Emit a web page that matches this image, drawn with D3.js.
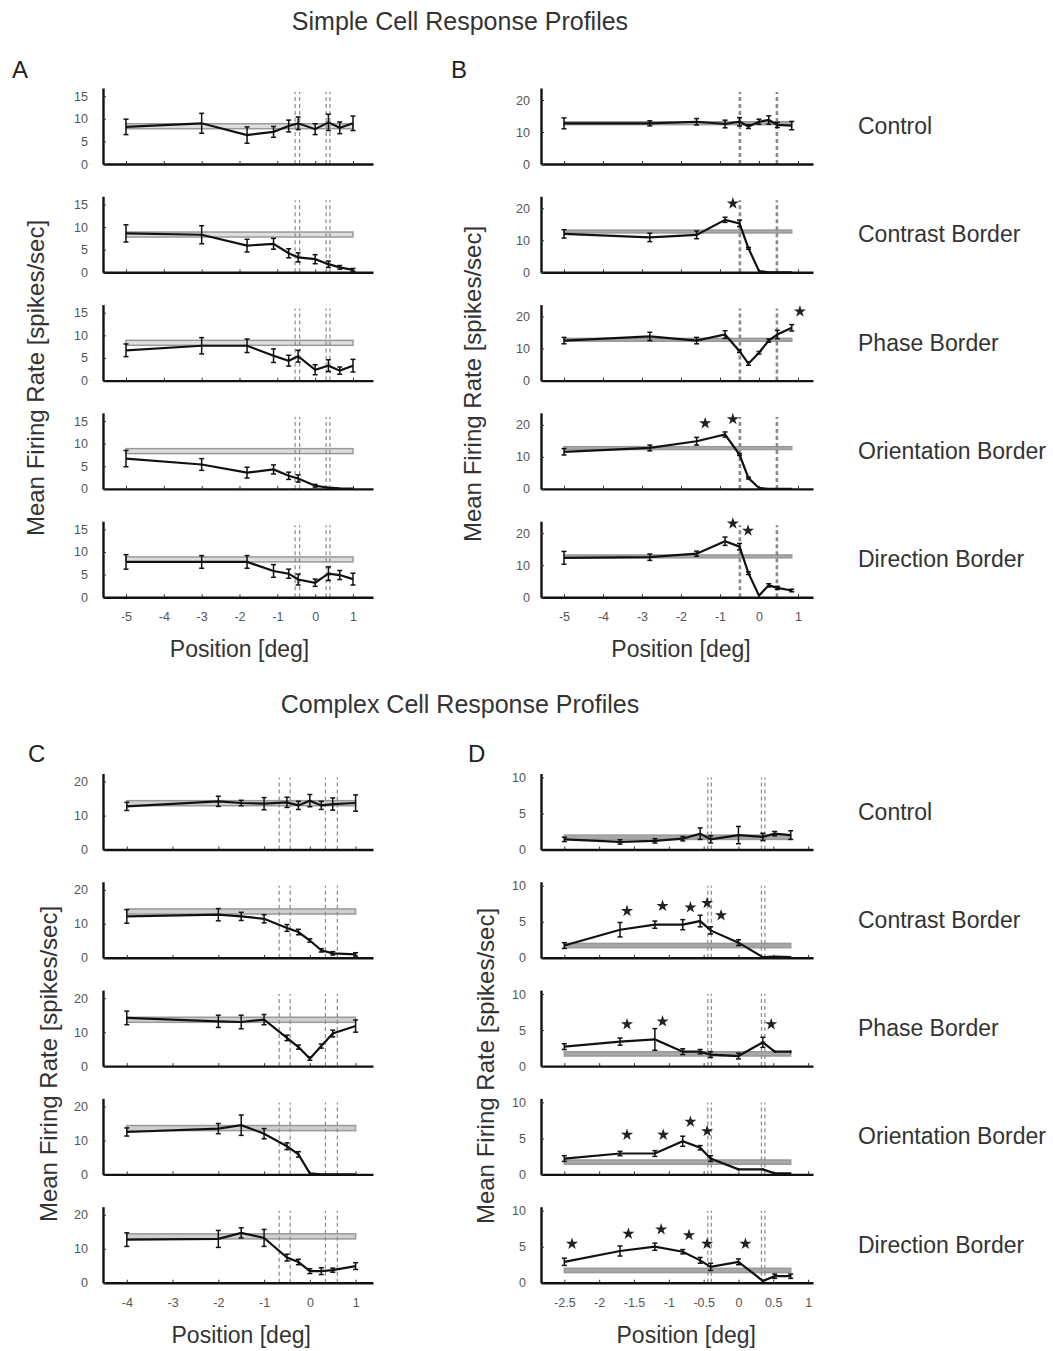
<!DOCTYPE html>
<html>
<head>
<meta charset="utf-8">
<script src="https://cdn.jsdelivr.net/npm/d3@7"></script>
<style>
  body { margin: 0; background: #fff; }
  text { font-family: "Liberation Sans", Arial, sans-serif; }
</style>
</head>
<body>
<svg id="chart"></svg>
<script>
// size
const width = 1053;
const height = 1351;

// conditions (rows)
const conditions = ["Control", "Contrast Border", "Phase Border", "Orientation Border", "Direction Border"];

// ---- A: simple cell, example 1 ----
const aX = [-5, -3, -1.8, -1.1, -0.7, -0.45, 0, 0.35, 0.65, 1.0];
const aMean = [
    [8.2, 9.0, 6.4, 7.1, 8.4, 9.0, 7.7, 9.2, 8.0, 9.0],
    [8.6, 8.3, 5.9, 6.3, 4.2, 3.3, 2.9, 1.8, 1.1, 0.55],
    [6.7, 7.7, 7.7, 5.5, 4.4, 5.4, 2.4, 3.3, 2.2, 3.3],
    [6.7, 5.4, 3.6, 4.3, 2.9, 2.3, 0.7, 0.3, 0.1, 0.05],
    [7.8, 7.8, 7.8, 5.8, 5.2, 3.9, 3.2, 5.2, 4.9, 4.0]
];
const aErr = [
    [1.7, 2.2, 1.8, 1.2, 1.3, 1.4, 1.2, 1.8, 1.3, 1.6],
    [1.9, 2.0, 1.4, 1.2, 1.0, 1.0, 1.0, 0.7, 0.4, 0.3],
    [1.4, 1.8, 1.5, 1.5, 1.2, 1.3, 1.1, 1.3, 0.8, 1.4],
    [1.8, 1.3, 1.2, 1.0, 0.8, 0.8, 0.3, 0.2, 0.1, 0.1],
    [1.6, 1.4, 1.4, 1.4, 1.0, 1.2, 0.8, 1.5, 1.0, 1.3]
];
const aBand = [7.8, 8.9];
const aBorders = [-0.53, -0.41, 0.29, 0.39];
const aStars = [[], [], [], [], []];
const aXTicks = [-5, -4, -3, -2, -1, 0, 1];
const aYTicks = [0, 5, 10, 15];

// ---- B: simple cell, example 2 ----
const bX = [-5, -2.8, -1.6, -0.87, -0.5, -0.27, 0, 0.25, 0.47, 0.84];
const bMean = [
    [12.7, 12.7, 13.2, 12.5, 13.2, 11.7, 13.2, 13.75, 12.2, 12.0],
    [12.0, 10.9, 11.7, 16.4, 15.3, 7.5, 0.4, 0, 0, 0],
    [12.5, 13.8, 12.5, 14.4, 9.2, 5.3, 8.7, 12.5, 14.4, 16.5],
    [11.6, 12.8, 14.9, 17.0, 10.75, 3.4, 0.3, 0, 0, 0],
    [12.3, 12.5, 13.6, 17.5, 15.8, 7.5, 0.5, 3.7, 2.9, 2.1]
];
const bErr = [
    [1.7, 0.8, 1.0, 1.2, 1.3, 0.6, 0.8, 1.3, 0.8, 1.3],
    [1.3, 1.3, 1.2, 0.8, 1.0, 0.3, 0.2, 0, 0, 0],
    [1.0, 1.3, 1.0, 1.2, 0.4, 0.5, 0.4, 0.5, 1.3, 1.0],
    [1.0, 0.9, 1.2, 0.8, 0.3, 0.3, 0.1, 0, 0, 0],
    [2.0, 1.0, 0.8, 1.3, 1.0, 0.4, 0.2, 0.5, 0.5, 0.4]
];
const bBand = [12.3, 13.2];
const bBorders = [-0.49, 0.46];
const bStars = [
    [],
    [[-0.67, 21.5]],
    [[1.05, 21.6]],
    [[-1.38, 20.5], [-0.67, 21.8]],
    [[-0.67, 23.0], [-0.28, 20.8]]
];
const bXTicks = [-5, -4, -3, -2, -1, 0, 1];
const bYTicks = [0, 10, 20];

// ---- C: complex cell, example 1 ----
const cX = [-4, -2, -1.5, -1, -0.5, -0.25, 0, 0.25, 0.5, 1.0];
const cMean = [
    [12.7, 14.2, 13.7, 13.5, 13.9, 13.0, 14.4, 13.0, 13.4, 13.7],
    [12.2, 12.7, 12.2, 11.5, 8.8, 7.6, 5.1, 2.2, 1.3, 1.0],
    [14.2, 13.2, 13.0, 13.7, 8.3, 5.6, 2.2, 5.9, 9.6, 11.8],
    [12.5, 13.5, 14.5, 12.0, 8.3, 5.9, 0.3, 0, 0, 0],
    [12.7, 12.9, 14.7, 13.2, 7.4, 6.1, 3.4, 3.4, 3.7, 4.9]
];
const cErr = [
    [1.2, 1.5, 0.8, 1.8, 1.5, 1.2, 1.8, 1.2, 1.8, 2.4],
    [2.0, 1.8, 1.2, 1.2, 1.0, 0.8, 0.5, 0.5, 0.5, 0.5],
    [2.0, 1.8, 2.0, 1.5, 0.8, 0.6, 0.5, 0.6, 1.0, 1.8],
    [1.2, 1.5, 3.0, 1.5, 1.0, 0.8, 0.2, 0, 0, 0],
    [2.0, 2.5, 1.5, 2.5, 1.0, 0.8, 0.7, 1.0, 0.6, 1.0]
];
const cBand = [12.9, 14.4];
const cBorders = [-0.67, -0.43, 0.34, 0.6];
const cStars = [[], [], [], [], []];
const cXTicks = [-4, -3, -2, -1, 0, 1];
const cYTicks = [0, 10, 20];

// ---- D: complex cell, example 2 ----
const dX = [-2.5, -1.7, -1.2, -0.8, -0.55, -0.4, 0, 0.35, 0.52, 0.75];
const dMean = [
    [1.4, 1.05, 1.2, 1.5, 2.2, 1.4, 2.0, 1.75, 2.2, 2.0],
    [1.7, 3.9, 4.6, 4.6, 5.1, 3.8, 2.1, 0.1, 0.15, 0.1],
    [2.7, 3.4, 3.7, 2.0, 2.0, 1.6, 1.4, 3.3, 2.0, 2.0],
    [2.2, 2.9, 2.9, 4.6, 3.7, 2.2, 0.7, 0.7, 0.15, 0.15],
    [2.9, 4.4, 5.0, 4.3, 3.1, 2.2, 2.9, 0.25, 0.9, 0.9]
];
const dErr = [
    [0.3, 0.3, 0.3, 0.3, 0.8, 0.5, 1.2, 0.5, 0.3, 0.6],
    [0.4, 1.0, 0.5, 0.7, 0.8, 0.5, 0.4, 0.1, 0.1, 0.1],
    [0.4, 0.5, 1.5, 0.4, 0.3, 0.4, 0.4, 0.7, 0.2, 0.2],
    [0.4, 0.3, 0.4, 0.7, 0.3, 0.4, 0.2, 0.2, 0.1, 0.1],
    [0.5, 0.7, 0.5, 0.3, 0.4, 0.5, 0.4, 0.2, 0.3, 0.3]
];
const dBand = [1.4, 2.0];
const dBorders = [-0.44, -0.39, 0.33, 0.38];
const dStars = [
    [],
    [[-1.6, 6.5], [-1.09, 7.2], [-0.69, 7.0], [-0.45, 7.6], [-0.25, 5.9]],
    [[-1.6, 5.8], [-1.09, 6.2], [0.47, 5.8]],
    [[-1.6, 5.5], [-1.08, 5.5], [-0.69, 7.3], [-0.45, 6.0]],
    [[-2.39, 5.4], [-1.58, 6.8], [-1.11, 7.4], [-0.71, 6.6], [-0.45, 5.4], [0.1, 5.4]]
];
const dXTicks = [-2.5, -2, -1.5, -1, -0.5, 0, 0.5, 1];
const dYTicks = [0, 5, 10];

// layout
const plotH = 76;
const topRows = [164, 272.3, 380.6, 488.9, 597.2];
const bottomRows = [849.5, 957.8, 1066.1, 1174.4, 1282.7];

const panels = [
    { letter: "A", xs: aX, mean: aMean, err: aErr, band: aBand, borders: aBorders, stars: aStars,
      xTicks: aXTicks, yTicks: aYTicks, xDomain: [-5.608, 1.529], yMax: 16.8,
      left: 103, right: 373, rows: topRows, yPad: 15, borderWidth: 1.2, bandFill: "#dedede" },
    { letter: "B", xs: bX, mean: bMean, err: bErr, band: bBand, borders: bBorders, stars: bStars,
      xTicks: bXTicks, yTicks: bYTicks, xDomain: [-5.59, 1.385], yMax: 23.75,
      left: 541, right: 813, rows: topRows, yPad: 11, borderWidth: 2.6, bandFill: "#aaaaaa" },
    { letter: "C", xs: cX, mean: cMean, err: cErr, band: cBand, borders: cBorders, stars: cStars,
      xTicks: cXTicks, yTicks: cYTicks, xDomain: [-4.52, 1.38], yMax: 22.4,
      left: 103, right: 373, rows: bottomRows, yPad: 15, borderWidth: 1.2, bandFill: "#cfcfcf" },
    { letter: "D", xs: dX, mean: dMean, err: dErr, band: dBand, borders: dBorders, stars: dStars,
      xTicks: dXTicks, yTicks: dYTicks, xDomain: [-2.835, 1.07], yMax: 10.55,
      left: 541, right: 813, rows: bottomRows, yPad: 15, borderWidth: 1.2, bandFill: "#a8a8a8" }
];

const svg = d3.select("#chart")
    .attr("width", width)
    .attr("height", height);

// draw one column of five stacked profiles
function drawPanel(p) {
    const x = d3.scaleLinear().domain(p.xDomain).range([p.left, p.right]);

    p.mean.forEach((m, i) => {
        const y0 = p.rows[i];
        const y = d3.scaleLinear().domain([0, p.yMax]).range([y0, y0 - plotH]);
        const g = svg.append("g");
        const last = i === p.mean.length - 1;

        // control band
        g.append("rect")
            .attr("x", x(p.xs[0]))
            .attr("width", x(p.xs[p.xs.length - 1]) - x(p.xs[0]))
            .attr("y", y(p.band[1]))
            .attr("height", y(p.band[0]) - y(p.band[1]))
            .attr("fill", p.bandFill)
            .attr("stroke", "#999")
            .attr("stroke-width", 1.5);

        // receptive field borders
        g.selectAll("line.border")
            .data(p.borders)
            .enter()
            .append("line")
            .attr("class", "border")
            .attr("x1", d => x(d))
            .attr("x2", d => x(d))
            .attr("y1", y0)
            .attr("y2", y0 - plotH + 4)
            .attr("stroke", "#8a8a8a")
            .attr("stroke-width", p.borderWidth)
            .attr("stroke-dasharray", "4,3");

        // axes
        const xAxis = d3.axisBottom(x)
            .tickValues(p.xTicks)
            .tickSizeInner(-3)
            .tickSizeOuter(0)
            .tickPadding(15)
            .tickFormat(d => last ? String(d) : "");
        const yAxis = d3.axisLeft(y)
            .tickValues(p.yTicks)
            .tickSizeInner(-3)
            .tickSizeOuter(0)
            .tickPadding(p.yPad)
            .tickFormat(d => String(d));

        const gx = g.append("g")
            .attr("transform", `translate(0,${y0})`)
            .call(xAxis);
        const gy = g.append("g")
            .attr("transform", `translate(${p.left},0)`)
            .call(yAxis);
        [gx, gy].forEach(a => {
            a.select(".domain").attr("stroke", "#111").attr("stroke-width", 2.4);
            a.selectAll(".tick line").attr("stroke", "#333").attr("stroke-width", 1);
            a.selectAll(".tick text").attr("fill", "#555").style("font-size", "12.5px");
        });

        // error bars
        const pts = p.xs.map((xv, j) => ({ x: xv, v: m[j], e: p.err[i][j] }));
        const eb = g.append("g").attr("class", "errorbars");
        eb.selectAll("line.eb")
            .data(pts)
            .enter()
            .append("line")
            .attr("x1", d => x(d.x))
            .attr("x2", d => x(d.x))
            .attr("y1", d => y(Math.max(0, d.v - d.e)))
            .attr("y2", d => y(d.v + d.e))
            .attr("stroke", "#111")
            .attr("stroke-width", 1.5);
        ["lo", "hi"].forEach(k => {
            eb.selectAll("line.cap" + k)
                .data(pts.filter(d => d.e > 0.25))
                .enter()
                .append("line")
                .attr("x1", d => x(d.x) - 2.5)
                .attr("x2", d => x(d.x) + 2.5)
                .attr("y1", d => y(k === "lo" ? Math.max(0, d.v - d.e) : d.v + d.e))
                .attr("y2", d => y(k === "lo" ? Math.max(0, d.v - d.e) : d.v + d.e))
                .attr("stroke", "#111")
                .attr("stroke-width", 1.5);
        });

        // mean line
        g.append("path")
            .datum(pts)
            .attr("d", d3.line().x(d => x(d.x)).y(d => y(d.v)))
            .attr("fill", "none")
            .attr("stroke", "#111")
            .attr("stroke-width", 2.2);

        // significance marks
        g.selectAll("path.star")
            .data(p.stars[i])
            .enter()
            .append("path")
            .attr("transform", d => `translate(${x(d[0])},${y(d[1])})`)
            .attr("d", d3.symbol().type(d3.symbolStar).size(46))
            .attr("fill", "#222");
    });

    // x label
    svg.append("text")
        .attr("x", (x(p.xTicks[0]) + x(p.xTicks[p.xTicks.length - 1])) / 2)
        .attr("y", p.rows[4] + 60)
        .attr("text-anchor", "middle")
        .attr("fill", "#333")
        .style("font-size", "23px")
        .text("Position [deg]");
}

panels.forEach(drawPanel);

// y labels
[[36, 378], [473, 384], [49, 1064], [486, 1066]].forEach(([cx, cy]) => {
    svg.append("text")
        .attr("transform", `translate(${cx},${cy}) rotate(-90)`)
        .attr("text-anchor", "middle")
        .attr("dy", "0.35em")
        .attr("fill", "#333")
        .style("font-size", "24px")
        .text("Mean Firing Rate [spikes/sec]");
});

// condition labels on the right
[topRows, bottomRows].forEach(rows => {
    svg.selectAll(null)
        .data(conditions)
        .enter()
        .append("text")
        .attr("x", 858)
        .attr("y", (d, i) => rows[i] - 30)
        .attr("fill", "#333")
        .style("font-size", "23px")
        .text(d => d);
});

// titles
svg.append("text")
    .attr("x", 460).attr("y", 30)
    .attr("text-anchor", "middle")
    .attr("fill", "#333")
    .style("font-size", "25px")
    .text("Simple Cell Response Profiles");
svg.append("text")
    .attr("x", 460).attr("y", 713)
    .attr("text-anchor", "middle")
    .attr("fill", "#333")
    .style("font-size", "25px")
    .text("Complex Cell Response Profiles");

// panel letters
[["A", 12, 78], ["B", 451, 78], ["C", 28, 762], ["D", 468, 762]].forEach(([t, lx, ly]) => {
    svg.append("text")
        .attr("x", lx).attr("y", ly)
        .attr("fill", "#222")
        .style("font-size", "24px")
        .text(t);
});
</script>
</body>
</html>
